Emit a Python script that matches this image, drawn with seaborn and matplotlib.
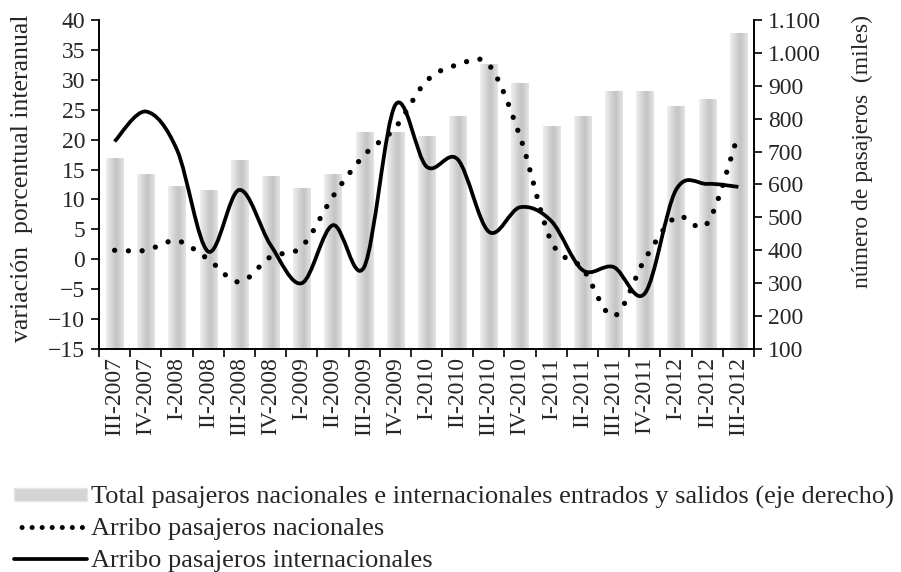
import numpy as np
import pandas as pd
import matplotlib
matplotlib.use("Agg")
import matplotlib.pyplot as plt
import seaborn as sns
from matplotlib.path import Path
from matplotlib.patches import PathPatch, Patch
from matplotlib.lines import Line2D
from matplotlib.colors import LinearSegmentedColormap
from matplotlib.ticker import FuncFormatter

trimestres = ["III-2007", "IV-2007", "I-2008", "II-2008", "III-2008", "IV-2008",
              "I-2009", "II-2009", "III-2009", "IV-2009", "I-2010", "II-2010",
              "III-2010", "IV-2010", "I-2011", "II-2011", "III-2011", "IV-2011",
              "I-2012", "II-2012", "III-2012"]
total_pasajeros = [681, 632, 595, 583, 674, 626, 589, 632, 759, 759, 747, 808,
                   966, 908, 778, 808, 884, 884, 839, 859, 1060]
arribo_nacionales = [1.5, 1.5, 3.1, 0.0, -3.8, 0.4, 2.1, 10.5, 17.4, 22.0, 29.8,
                     32.5, 32.5, 20.5, 3.0, -1.5, -9.5, 0.0, 7.1, 6.0, 21.0]
arribo_internacionales = [19.7, 24.7, 18.3, 1.3, 11.6, 2.4, -4.0, 5.7, -1.3, 25.8,
                          15.5, 16.7, 4.6, 8.7, 6.4, -1.8, -1.3, -5.7, 11.6, 12.6, 12.1]

lbl_barras = "Total pasajeros nacionales e internacionales entrados y salidos (eje derecho)"
lbl_nac = "Arribo pasajeros nacionales"
lbl_int = "Arribo pasajeros internacionales"

sns.set_style("ticks")
plt.rcParams["font.family"] = ["Liberation Serif", "DejaVu Serif"]
plt.rcParams["font.size"] = 17


def curva_suave(xs, ys):
    # curva tipo Excel (Catmull-Rom -> Bezier cubica)
    pts = np.column_stack([xs, ys]).astype(float)
    n = len(pts)
    verts = [pts[0]]
    codes = [Path.MOVETO]
    for i in range(n - 1):
        p0 = pts[i - 1] if i > 0 else pts[i]
        p1 = pts[i]
        p2 = pts[i + 1]
        p3 = pts[i + 2] if i + 2 < n else pts[i + 1]
        verts += [p1 + (p2 - p0) / 6, p2 - (p3 - p1) / 6, p2]
        codes += [Path.CURVE4] * 3
    return Path(verts, codes)


fig = plt.figure(figsize=(9.01, 5.72), dpi=100)
ax = fig.add_axes([99 / 901, 1 - 349 / 572, 655 / 901, 329 / 572])
ax2 = ax.twinx()

df = pd.DataFrame({"trimestre": trimestres, "total": total_pasajeros})
sns.barplot(data=df, x="trimestre", y="total", ax=ax2, color="#cccccc",
            width=0.55, linewidth=0)

ymin2, ymax2 = 100, 1100

# degradado gris tipo cilindro en cada barra
cmap = LinearSegmentedColormap.from_list(
    "cil", [(0, "#efefef"), (0.35, "#d4d4d4"), (0.6, "#c4c4c4"), (1, "#e4e4e4")])
grad = np.linspace(0, 1, 64).reshape(1, -1)
for bar in list(ax2.patches):
    x0, w, h = bar.get_x(), bar.get_width(), bar.get_height()
    im = ax2.imshow(grad, cmap=cmap, aspect="auto",
                    extent=[x0, x0 + w, ymin2, bar.get_y() + h],
                    zorder=1, interpolation="bilinear")
    im.set_clip_path(bar)
    bar.set_facecolor("none")

ax2.set_ylim(ymin2, ymax2)
ax2.set_yticks(np.arange(ymin2, ymax2 + 1, 100))
ax2.yaxis.set_major_formatter(FuncFormatter(lambda v, p: f"{int(v):,}".replace(",", ".")))
ax2.set_ylabel("número de pasajeros  (miles)", fontsize=17)
ax2.yaxis.set_label_coords(1.150, 0.60)

ax.set_zorder(ax2.get_zorder() + 1)
ax.patch.set_visible(False)

xs = np.arange(len(trimestres))
p_int = PathPatch(curva_suave(xs, arribo_internacionales), fill=False, lw=2.7,
                  edgecolor="black", capstyle="butt")
ax.add_patch(p_int)
p_nac = PathPatch(curva_suave(xs, arribo_nacionales), fill=False, lw=3.8,
                  edgecolor="black", linestyle=(0, (0.01, 2.6)), capstyle="round")
ax.add_patch(p_nac)

ax.set_xlim(-0.5, len(trimestres) - 0.5)
ax2.set_xlim(-0.5, len(trimestres) - 0.5)
ax.set_ylim(-15, 40)
ax.set_yticks(np.arange(-15, 41, 5))
ax.set_xticks(xs)
ax.set_xticklabels(trimestres, rotation=90)
ax.set_xticks(np.arange(-0.5, len(trimestres), 1), minor=True)
ax.tick_params(axis="x", which="major", length=0, pad=6)
ax.tick_params(axis="x", which="minor", length=6, width=1.2, color="black")
ax.tick_params(axis="y", length=6, width=1.2, color="black", pad=4)
ax2.tick_params(axis="y", length=6, width=1.2, color="black", pad=4)
ax.set_xlabel("")
ax2.set_xlabel("")
ax.set_ylabel("variación  porcentual interanual", fontsize=18.5)
ax.yaxis.set_label_coords(-0.100, 0.52)

for a in (ax, ax2):
    a.spines["top"].set_visible(False)
    for s in ("left", "right", "bottom"):
        a.spines[s].set_linewidth(1.2)
        a.spines[s].set_color("black")

handles = [
    Patch(facecolor="#d4d4d4", edgecolor="#e6e6e6"),
    Line2D([], [], color="black", lw=3.6, linestyle=(0.5, (0.01, 2.0)), dash_capstyle="round"),
    Line2D([], [], color="black", lw=2.7),
]
fig.legend(handles, [lbl_barras, lbl_nac, lbl_int], loc="upper left",
           bbox_to_anchor=(14 / 901, 1 - 486 / 572), frameon=False, fontsize=19,
           handlelength=2.75, handleheight=0.4, handletextpad=0.15, labelspacing=0.35,
           borderpad=0, borderaxespad=0)

fig.savefig("out.png", dpi=100)
